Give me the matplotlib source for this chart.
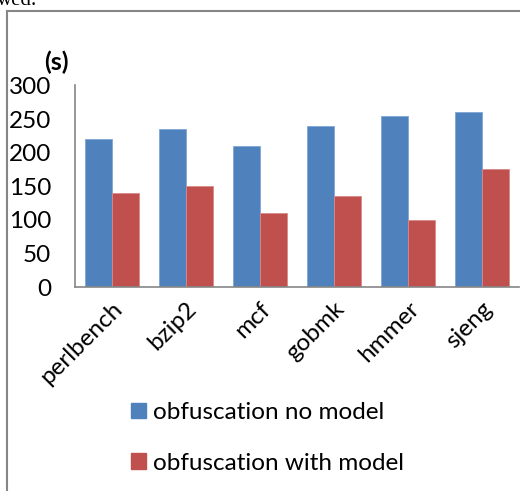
import matplotlib
matplotlib.use("Agg")
import matplotlib.pyplot as plt
import matplotlib.patches as mpatches
import numpy as np

categories = ["perlbench", "bzip2", "mcf", "gobmk", "hmmer", "sjeng"]
no_model = [220, 235, 210, 240, 255, 260]
with_model = [140, 150, 110, 135, 100, 175]
series_names = ["obfuscation no model", "obfuscation with model"]
yticks = [0, 50, 100, 150, 200, 250, 300]

FONT = ["Lato", "DejaVu Sans"]
FS = 17.5
blue = "#4F81BD"
red = "#C0504D"
gray = "#868686"

W, H = 520, 491
fig = plt.figure(figsize=(W / 100, H / 100), dpi=100)

ax = fig.add_axes([75 / W, 1 - 287 / H, 444 / W, (287 - 85.5) / H])
x = np.arange(len(categories))
bw = 0.36
ax.bar(x - bw / 2, no_model, bw, color=blue, edgecolor="#7FA6D6", linewidth=0.6, label=series_names[0])
ax.bar(x + bw / 2, with_model, bw, color=red, edgecolor="#D98A88", linewidth=0.6, label=series_names[1])
ax.set_xlim(-0.5, len(categories) - 0.5)
ax.set_ylim(0, 300)
ax.set_yticks(yticks)
ax.set_yticklabels([str(v) for v in yticks], fontsize=FS, family=FONT)
ax.set_xticks(x)
ax.set_xticklabels(categories, fontsize=FS, family=FONT, rotation=45, ha="right", rotation_mode="anchor")
ax.tick_params(axis="y", length=0, pad=17)
ax.tick_params(axis="x", length=0, pad=8)
for s in ["top", "right"]:
    ax.spines[s].set_visible(False)
for s in ["left", "bottom"]:
    ax.spines[s].set_color(gray)
    ax.spines[s].set_linewidth(1.2)

fig.text(44 / W, 1 - 62 / H, "(s)", fontsize=FS + 0.5, fontweight="bold", family=FONT, va="center", ha="left")

# legend
h1 = mpatches.Patch(color=blue)
h2 = mpatches.Patch(color=red)
fig.legend([h1, h2], series_names, loc="upper left", bbox_to_anchor=(131 / W, 1 - 402 / H),
           frameon=False, prop={"family": FONT, "size": FS}, handlelength=0.62, handleheight=0.62,
           handletextpad=0.3, labelspacing=1.22, borderaxespad=0, borderpad=0)

# surrounding frame
fig.add_artist(plt.Line2D([6.5 / W, 6.5 / W], [-0.1, 1 - 11 / H], transform=fig.transFigure, color=gray, lw=1.5))
fig.add_artist(plt.Line2D([6.5 / W, 1.1], [1 - 11 / H, 1 - 11 / H], transform=fig.transFigure, color=gray, lw=1.5))

# cut-off text from document above
fig.text(-3 / W, 1 - 5 / H, "wed.", fontsize=15, family=["Liberation Serif"], va="baseline", ha="left")

fig.savefig("out.png", dpi=100)
